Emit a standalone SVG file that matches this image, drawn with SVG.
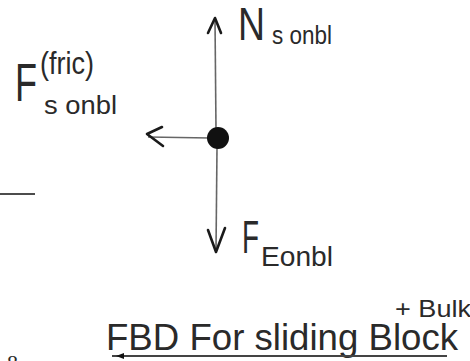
<svg xmlns="http://www.w3.org/2000/svg" width="470" height="361" viewBox="0 0 470 361">
<style>
.t{font-family:"Liberation Sans","DejaVu Sans",sans-serif;fill:#2a2a2a}
.ln{stroke:#666;stroke-width:1.6;fill:none}
.hd{stroke:#1a1a1a;stroke-width:2.6;fill:none;stroke-linecap:round;stroke-linejoin:round}
</style>
<rect width="470" height="361" fill="#fff"/>
<g id="connectors">
  <line class="ln" x1="215" y1="19" x2="216" y2="130"/>
  <polyline class="hd" points="208,33 215,18 221,33"/>
  <line class="ln" x1="217" y1="148" x2="216" y2="250"/>
  <polyline class="hd" points="208,230 216,252 225,228"/>
  <line class="ln" x1="148" y1="137" x2="210" y2="138"/>
  <polyline class="hd" points="162,127 147,134 163,146"/>
</g>
<g id="block">
  <circle cx="218" cy="138" r="11" fill="#111"/>
</g>
<g id="label-normal">
  <text class="t" x="238" y="40" font-size="46" textLength="27" lengthAdjust="spacingAndGlyphs">N</text>
  <text class="t" x="272" y="44" font-size="26" textLength="60" lengthAdjust="spacingAndGlyphs">s onbl</text>
</g>
<g id="label-friction">
  <text class="t" x="15" y="101" font-size="54" textLength="22" lengthAdjust="spacingAndGlyphs">F</text>
  <text class="t" x="40" y="74" font-size="32" textLength="54" lengthAdjust="spacingAndGlyphs">(fric)</text>
  <text class="t" x="44" y="114" font-size="26" textLength="73" lengthAdjust="spacingAndGlyphs">s onbl</text>
</g>
<g id="label-gravity">
  <text class="t" x="242" y="253" font-size="46" textLength="17" lengthAdjust="spacingAndGlyphs">F</text>
  <text class="t" x="261" y="266" font-size="28" textLength="72" lengthAdjust="spacingAndGlyphs">Eonbl</text>
</g>
<g id="left-line">
  <line x1="0" y1="194" x2="35" y2="194" stroke="#111" stroke-width="1.6"/>
</g>
<g id="title">
  <text class="t" x="395" y="317" font-size="24" textLength="76" lengthAdjust="spacingAndGlyphs">+ Bulk</text>
  <text class="t" x="106" y="350" font-size="37" textLength="352" lengthAdjust="spacingAndGlyphs">FBD For sliding Block</text>
  <line x1="112" y1="356" x2="447" y2="356" stroke="#444" stroke-width="1.8"/>
  <polygon points="116,356 124,353 124,359" fill="#111"/>
</g>
<text x="7" y="370" font-size="22" style="font-family:'Liberation Serif',serif;fill:#2a2a2a">8</text>
</svg>
